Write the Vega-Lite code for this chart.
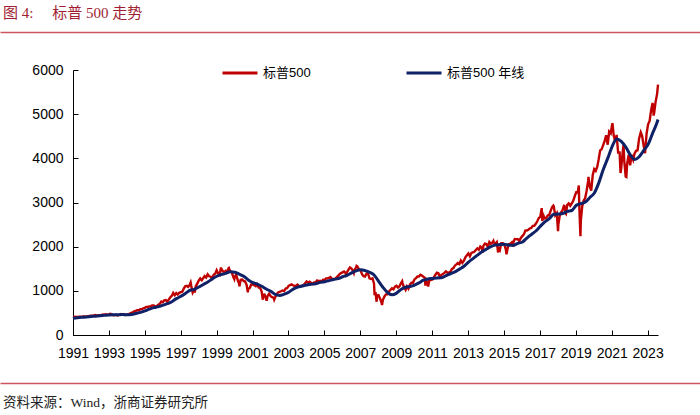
{
  "$schema": "https://vega.github.io/schema/vega-lite/v6.json",
  "background": "white",
  "padding": {"top": 6, "left": 0, "right": 0, "bottom": 0},
  "spacing": 23,
  "config": {
    "view": {"stroke": null},
    "axis": {"labelFont": "Liberation Sans", "labelColor": "black", "domainColor": "black", "tickColor": "black", "grid": false}
  },
  "datasets": {
    "spx": [
      {"d":"1991-12-31","v":417},
      {"d":"1992-01-28","v":409},{"d":"1992-02-28","v":413},{"d":"1992-03-28","v":404},{"d":"1992-04-28","v":415},{"d":"1992-05-28","v":415},{"d":"1992-06-28","v":408},{"d":"1992-07-28","v":424},{"d":"1992-08-28","v":414},{"d":"1992-09-28","v":418},{"d":"1992-10-28","v":419},{"d":"1992-11-28","v":431},{"d":"1992-12-28","v":436},
      {"d":"1993-01-28","v":439},{"d":"1993-02-28","v":443},{"d":"1993-03-28","v":452},{"d":"1993-04-28","v":440},{"d":"1993-05-28","v":450},{"d":"1993-06-28","v":451},{"d":"1993-07-28","v":448},{"d":"1993-08-28","v":464},{"d":"1993-09-28","v":459},{"d":"1993-10-28","v":468},{"d":"1993-11-28","v":462},{"d":"1993-12-28","v":467},
      {"d":"1994-01-28","v":482},{"d":"1994-02-28","v":467},{"d":"1994-03-28","v":446},{"d":"1994-04-28","v":451},{"d":"1994-05-28","v":457},{"d":"1994-06-28","v":444},{"d":"1994-07-28","v":458},{"d":"1994-08-28","v":476},{"d":"1994-09-28","v":463},{"d":"1994-10-28","v":472},{"d":"1994-11-28","v":454},{"d":"1994-12-28","v":459},
      {"d":"1995-01-28","v":470},{"d":"1995-02-28","v":487},{"d":"1995-03-28","v":501},{"d":"1995-04-28","v":515},{"d":"1995-05-28","v":533},{"d":"1995-06-28","v":545},{"d":"1995-07-28","v":562},{"d":"1995-08-28","v":562},{"d":"1995-09-28","v":584},{"d":"1995-10-28","v":582},{"d":"1995-11-28","v":605},{"d":"1995-12-28","v":616},
      {"d":"1996-01-28","v":636},{"d":"1996-02-28","v":640},{"d":"1996-03-28","v":646},{"d":"1996-04-28","v":654},{"d":"1996-05-28","v":669},{"d":"1996-06-28","v":671},{"d":"1996-07-28","v":640},{"d":"1996-08-28","v":652},{"d":"1996-09-28","v":687},{"d":"1996-10-28","v":705},{"d":"1996-11-28","v":757},{"d":"1996-12-28","v":741},
      {"d":"1997-01-28","v":786},{"d":"1997-02-28","v":791},{"d":"1997-03-28","v":757},{"d":"1997-04-28","v":801},{"d":"1997-05-28","v":848},{"d":"1997-06-28","v":885},{"d":"1997-07-28","v":954},{"d":"1997-08-28","v":900},{"d":"1997-09-28","v":947},{"d":"1997-10-28","v":915},{"d":"1997-11-28","v":955},{"d":"1997-12-28","v":970},
      {"d":"1998-01-28","v":980},{"d":"1998-02-28","v":1049},{"d":"1998-03-28","v":1102},{"d":"1998-04-28","v":1112},{"d":"1998-05-28","v":1091},{"d":"1998-06-28","v":1134},{"d":"1998-07-17","v":1187},{"d":"1998-07-28","v":1121},{"d":"1998-08-28","v":957},{"d":"1998-09-28","v":1017},{"d":"1998-10-08","v":959},{"d":"1998-10-28","v":1099},{"d":"1998-11-28","v":1164},{"d":"1998-12-28","v":1229},
      {"d":"1999-01-28","v":1280},{"d":"1999-02-28","v":1238},{"d":"1999-03-28","v":1286},{"d":"1999-04-28","v":1335},{"d":"1999-05-28","v":1302},{"d":"1999-06-28","v":1373},{"d":"1999-07-28","v":1329},{"d":"1999-08-28","v":1320},{"d":"1999-09-28","v":1283},{"d":"1999-10-28","v":1363},{"d":"1999-11-28","v":1389},{"d":"1999-12-28","v":1469},
      {"d":"2000-01-28","v":1395},{"d":"2000-02-28","v":1366},{"d":"2000-03-24","v":1527},{"d":"2000-03-30","v":1499},{"d":"2000-04-28","v":1452},{"d":"2000-05-28","v":1421},{"d":"2000-06-28","v":1455},{"d":"2000-07-28","v":1431},{"d":"2000-08-28","v":1518},{"d":"2000-09-01","v":1521},{"d":"2000-09-28","v":1437},{"d":"2000-10-28","v":1429},{"d":"2000-11-28","v":1315},{"d":"2000-12-20","v":1264},{"d":"2000-12-29","v":1320},
      {"d":"2001-01-28","v":1366},{"d":"2001-02-28","v":1240},{"d":"2001-03-28","v":1160},{"d":"2001-04-04","v":1103},{"d":"2001-04-28","v":1250},{"d":"2001-05-28","v":1256},{"d":"2001-06-28","v":1224},{"d":"2001-07-28","v":1211},{"d":"2001-08-28","v":1134},{"d":"2001-09-21","v":966},{"d":"2001-09-28","v":1041},{"d":"2001-10-28","v":1060},{"d":"2001-11-28","v":1140},{"d":"2001-12-28","v":1148},
      {"d":"2002-01-28","v":1130},{"d":"2002-02-28","v":1107},{"d":"2002-03-28","v":1147},{"d":"2002-04-28","v":1077},{"d":"2002-05-28","v":1067},{"d":"2002-06-28","v":990},{"d":"2002-07-23","v":798},{"d":"2002-07-30","v":912},{"d":"2002-08-28","v":916},{"d":"2002-09-28","v":815},{"d":"2002-10-09","v":777},{"d":"2002-10-28","v":886},{"d":"2002-11-28","v":936},{"d":"2002-12-28","v":880},
      {"d":"2003-01-28","v":856},{"d":"2003-02-28","v":841},{"d":"2003-03-11","v":801},{"d":"2003-03-28","v":848},{"d":"2003-04-28","v":917},{"d":"2003-05-28","v":964},{"d":"2003-06-28","v":975},{"d":"2003-07-28","v":990},{"d":"2003-08-28","v":1008},{"d":"2003-09-28","v":996},{"d":"2003-10-28","v":1051},{"d":"2003-11-28","v":1058},{"d":"2003-12-28","v":1112},
      {"d":"2004-01-28","v":1131},{"d":"2004-02-28","v":1145},{"d":"2004-03-28","v":1126},{"d":"2004-04-28","v":1107},{"d":"2004-05-28","v":1121},{"d":"2004-06-28","v":1141},{"d":"2004-07-28","v":1102},{"d":"2004-08-28","v":1104},{"d":"2004-09-28","v":1115},{"d":"2004-10-28","v":1130},{"d":"2004-11-28","v":1174},{"d":"2004-12-28","v":1212},
      {"d":"2005-01-28","v":1181},{"d":"2005-02-28","v":1204},{"d":"2005-03-28","v":1181},{"d":"2005-04-28","v":1157},{"d":"2005-05-28","v":1192},{"d":"2005-06-28","v":1191},{"d":"2005-07-28","v":1234},{"d":"2005-08-28","v":1220},{"d":"2005-09-28","v":1229},{"d":"2005-10-28","v":1207},{"d":"2005-11-28","v":1250},{"d":"2005-12-28","v":1248},
      {"d":"2006-01-28","v":1280},{"d":"2006-02-28","v":1281},{"d":"2006-03-28","v":1295},{"d":"2006-04-28","v":1311},{"d":"2006-05-28","v":1270},{"d":"2006-06-28","v":1270},{"d":"2006-07-28","v":1277},{"d":"2006-08-28","v":1304},{"d":"2006-09-28","v":1336},{"d":"2006-10-28","v":1378},{"d":"2006-11-28","v":1401},{"d":"2006-12-28","v":1418},
      {"d":"2007-01-28","v":1438},{"d":"2007-02-28","v":1407},{"d":"2007-03-05","v":1374},{"d":"2007-03-28","v":1421},{"d":"2007-04-28","v":1482},{"d":"2007-05-28","v":1531},{"d":"2007-06-28","v":1503},{"d":"2007-07-28","v":1455},{"d":"2007-08-15","v":1406},{"d":"2007-08-28","v":1474},{"d":"2007-09-28","v":1527},{"d":"2007-10-09","v":1565},{"d":"2007-10-28","v":1549},{"d":"2007-11-28","v":1481},{"d":"2007-12-28","v":1468},
      {"d":"2008-01-28","v":1379},{"d":"2008-02-28","v":1331},{"d":"2008-03-28","v":1323},{"d":"2008-04-28","v":1386},{"d":"2008-05-28","v":1400},{"d":"2008-06-28","v":1280},{"d":"2008-07-28","v":1267},{"d":"2008-08-28","v":1283},{"d":"2008-09-28","v":1166},{"d":"2008-10-10","v":899},{"d":"2008-10-28","v":969},{"d":"2008-11-20","v":752},{"d":"2008-11-28","v":896},{"d":"2008-12-28","v":903},
      {"d":"2009-01-28","v":826},{"d":"2009-02-28","v":735},{"d":"2009-03-09","v":677},{"d":"2009-03-28","v":798},{"d":"2009-04-28","v":873},{"d":"2009-05-28","v":919},{"d":"2009-06-28","v":919},{"d":"2009-07-28","v":988},{"d":"2009-08-28","v":1021},{"d":"2009-09-28","v":1057},{"d":"2009-10-28","v":1036},{"d":"2009-11-28","v":1096},{"d":"2009-12-28","v":1115},
      {"d":"2010-01-28","v":1074},{"d":"2010-02-28","v":1105},{"d":"2010-03-28","v":1169},{"d":"2010-04-23","v":1217},{"d":"2010-04-28","v":1187},{"d":"2010-05-28","v":1089},{"d":"2010-06-28","v":1031},{"d":"2010-07-02","v":1023},{"d":"2010-07-28","v":1102},{"d":"2010-08-28","v":1049},{"d":"2010-09-28","v":1141},{"d":"2010-10-28","v":1183},{"d":"2010-11-28","v":1181},{"d":"2010-12-28","v":1258},
      {"d":"2011-01-28","v":1286},{"d":"2011-02-28","v":1327},{"d":"2011-03-28","v":1326},{"d":"2011-04-28","v":1364},{"d":"2011-05-28","v":1345},{"d":"2011-06-28","v":1321},{"d":"2011-07-28","v":1292},{"d":"2011-08-08","v":1119},{"d":"2011-08-28","v":1219},{"d":"2011-09-28","v":1131},{"d":"2011-10-03","v":1099},{"d":"2011-10-28","v":1253},{"d":"2011-11-28","v":1247},{"d":"2011-12-28","v":1258},
      {"d":"2012-01-28","v":1312},{"d":"2012-02-28","v":1366},{"d":"2012-03-28","v":1409},{"d":"2012-04-28","v":1398},{"d":"2012-05-28","v":1310},{"d":"2012-06-28","v":1362},{"d":"2012-07-28","v":1379},{"d":"2012-08-28","v":1407},{"d":"2012-09-28","v":1441},{"d":"2012-10-28","v":1412},{"d":"2012-11-28","v":1416},{"d":"2012-12-28","v":1426},
      {"d":"2013-01-28","v":1498},{"d":"2013-02-28","v":1515},{"d":"2013-03-28","v":1569},{"d":"2013-04-28","v":1598},{"d":"2013-05-28","v":1631},{"d":"2013-06-28","v":1606},{"d":"2013-07-28","v":1686},{"d":"2013-08-28","v":1633},{"d":"2013-09-28","v":1682},{"d":"2013-10-28","v":1757},{"d":"2013-11-28","v":1806},{"d":"2013-12-28","v":1848},
      {"d":"2014-01-28","v":1783},{"d":"2014-02-28","v":1860},{"d":"2014-03-28","v":1872},{"d":"2014-04-28","v":1884},{"d":"2014-05-28","v":1924},{"d":"2014-06-28","v":1960},{"d":"2014-07-28","v":1931},{"d":"2014-08-28","v":2003},{"d":"2014-09-28","v":1972},{"d":"2014-10-15","v":1862},{"d":"2014-10-28","v":2018},{"d":"2014-11-28","v":2068},{"d":"2014-12-28","v":2059},
      {"d":"2015-01-28","v":1995},{"d":"2015-02-28","v":2105},{"d":"2015-03-28","v":2068},{"d":"2015-04-28","v":2086},{"d":"2015-05-21","v":2131},{"d":"2015-05-28","v":2107},{"d":"2015-06-28","v":2063},{"d":"2015-07-28","v":2104},{"d":"2015-08-25","v":1868},{"d":"2015-08-28","v":1972},{"d":"2015-09-28","v":1920},{"d":"2015-10-28","v":2079},{"d":"2015-11-28","v":2080},{"d":"2015-12-28","v":2044},
      {"d":"2016-01-28","v":1940},{"d":"2016-02-11","v":1829},{"d":"2016-02-28","v":1932},{"d":"2016-03-28","v":2060},{"d":"2016-04-28","v":2065},{"d":"2016-05-28","v":2097},{"d":"2016-06-27","v":2001},{"d":"2016-06-30","v":2099},{"d":"2016-07-28","v":2174},{"d":"2016-08-28","v":2171},{"d":"2016-09-28","v":2168},{"d":"2016-10-28","v":2126},{"d":"2016-11-28","v":2199},{"d":"2016-12-28","v":2239},
      {"d":"2017-01-28","v":2279},{"d":"2017-02-28","v":2364},{"d":"2017-03-28","v":2363},{"d":"2017-04-28","v":2384},{"d":"2017-05-28","v":2412},{"d":"2017-06-28","v":2423},{"d":"2017-07-28","v":2470},{"d":"2017-08-28","v":2472},{"d":"2017-09-28","v":2519},{"d":"2017-10-28","v":2575},{"d":"2017-11-28","v":2648},{"d":"2017-12-28","v":2674},
      {"d":"2018-01-26","v":2873},{"d":"2018-02-08","v":2581},{"d":"2018-02-28","v":2714},{"d":"2018-03-28","v":2641},{"d":"2018-04-28","v":2648},{"d":"2018-05-28","v":2705},{"d":"2018-06-28","v":2718},{"d":"2018-07-28","v":2816},{"d":"2018-08-28","v":2902},{"d":"2018-09-20","v":2931},{"d":"2018-09-28","v":2914},{"d":"2018-10-28","v":2712},{"d":"2018-11-28","v":2760},{"d":"2018-12-24","v":2351},{"d":"2018-12-31","v":2507},
      {"d":"2019-01-28","v":2704},{"d":"2019-02-28","v":2785},{"d":"2019-03-28","v":2834},{"d":"2019-04-28","v":2946},{"d":"2019-05-28","v":2752},{"d":"2019-06-03","v":2744},{"d":"2019-06-28","v":2942},{"d":"2019-07-28","v":2980},{"d":"2019-08-28","v":2927},{"d":"2019-09-28","v":2977},{"d":"2019-10-28","v":3038},{"d":"2019-11-28","v":3141},{"d":"2019-12-28","v":3231},
      {"d":"2020-01-28","v":3226},{"d":"2020-02-19","v":3386},{"d":"2020-02-28","v":2954},{"d":"2020-03-23","v":2237},{"d":"2020-03-31","v":2585},{"d":"2020-04-28","v":2912},{"d":"2020-05-28","v":3044},{"d":"2020-06-28","v":3100},{"d":"2020-07-28","v":3271},{"d":"2020-08-28","v":3500},{"d":"2020-09-02","v":3580},{"d":"2020-09-28","v":3363},{"d":"2020-10-28","v":3270},{"d":"2020-11-28","v":3622},{"d":"2020-12-28","v":3756},
      {"d":"2021-01-28","v":3714},{"d":"2021-02-28","v":3811},{"d":"2021-03-28","v":3973},{"d":"2021-04-28","v":4181},{"d":"2021-05-28","v":4204},{"d":"2021-06-28","v":4298},{"d":"2021-07-28","v":4395},{"d":"2021-08-28","v":4523},{"d":"2021-09-28","v":4308},{"d":"2021-10-28","v":4605},{"d":"2021-11-28","v":4567},{"d":"2021-12-28","v":4766},
      {"d":"2022-01-03","v":4797},{"d":"2022-01-28","v":4516},{"d":"2022-02-28","v":4374},{"d":"2022-03-28","v":4530},{"d":"2022-04-28","v":4132},{"d":"2022-05-28","v":4132},{"d":"2022-06-16","v":3667},{"d":"2022-06-30","v":3785},{"d":"2022-07-28","v":4130},{"d":"2022-08-16","v":4305},{"d":"2022-08-30","v":3955},{"d":"2022-09-28","v":3586},{"d":"2022-10-12","v":3577},{"d":"2022-10-28","v":3872},{"d":"2022-11-28","v":4080},{"d":"2022-12-28","v":3840},
      {"d":"2023-01-28","v":4077},{"d":"2023-02-28","v":3970},{"d":"2023-03-28","v":4109},{"d":"2023-04-28","v":4170},{"d":"2023-05-28","v":4180},{"d":"2023-06-28","v":4450},{"d":"2023-07-31","v":4589},{"d":"2023-08-28","v":4508},{"d":"2023-09-28","v":4288},{"d":"2023-10-27","v":4117},{"d":"2023-10-31","v":4194},{"d":"2023-11-28","v":4568},{"d":"2023-12-28","v":4770},
      {"d":"2024-01-28","v":4846},{"d":"2024-02-28","v":5096},{"d":"2024-03-28","v":5254},{"d":"2024-04-19","v":4967},{"d":"2024-04-30","v":5036},{"d":"2024-05-28","v":5278},{"d":"2024-06-28","v":5460},{"d":"2024-07-16","v":5667}
    ],
    "ma": [
      {"d":"1991-12-31","v":381.5},
      {"d":"1992-03-31","v":393.2},{"d":"1992-06-30","v":401.7},{"d":"1992-09-30","v":408.8},{"d":"1992-12-31","v":417.2},
      {"d":"1993-03-31","v":426.2},{"d":"1993-06-30","v":434.8},{"d":"1993-09-30","v":444.3},{"d":"1993-12-31","v":453.6},
      {"d":"1994-03-31","v":458.7},{"d":"1994-06-30","v":459.6},{"d":"1994-09-30","v":461.8},{"d":"1994-12-31","v":460.8},
      {"d":"1995-03-31","v":466.0},{"d":"1995-06-30","v":486.1},{"d":"1995-09-30","v":512.0},{"d":"1995-12-31","v":546.8},
      {"d":"1996-03-31","v":585.5},{"d":"1996-06-30","v":618.9},{"d":"1996-09-30","v":641.5},{"d":"1996-12-31","v":674.8},
      {"d":"1997-03-31","v":709.2},{"d":"1997-06-30","v":754.2},{"d":"1997-09-30","v":822.7},{"d":"1997-12-31","v":875.8},
      {"d":"1998-03-31","v":942.2},{"d":"1998-06-30","v":1009.1},{"d":"1998-09-30","v":1033.6},{"d":"1998-12-31","v":1087.9},
      {"d":"1999-03-31","v":1144.0},{"d":"1999-06-30","v":1200.1},{"d":"1999-09-30","v":1269.8},{"d":"1999-12-31","v":1330.6},
      {"d":"2000-03-31","v":1368.6},{"d":"2000-06-30","v":1395.1},{"d":"2000-09-30","v":1432.9},{"d":"2000-12-31","v":1419.8},
      {"d":"2001-03-31","v":1378.7},{"d":"2001-06-30","v":1328.8},{"d":"2001-09-30","v":1245.5},{"d":"2001-12-31","v":1185.8},
      {"d":"2002-03-31","v":1154.0},{"d":"2002-06-30","v":1104.3},{"d":"2002-09-30","v":1042.4},{"d":"2002-12-31","v":988.6},
      {"d":"2003-03-31","v":918.7},{"d":"2003-06-30","v":895.5},{"d":"2003-09-30","v":924.8},{"d":"2003-12-31","v":968.0},
      {"d":"2004-03-31","v":1039.4},{"d":"2004-06-30","v":1082.2},{"d":"2004-09-30","v":1109.4},{"d":"2004-12-31","v":1134.0},
      {"d":"2005-03-31","v":1147.7},{"d":"2005-06-30","v":1161.9},{"d":"2005-09-30","v":1192.1},{"d":"2005-12-31","v":1207.8},
      {"d":"2006-03-31","v":1232.0},{"d":"2006-06-30","v":1257.9},{"d":"2006-09-30","v":1277.4},{"d":"2006-12-31","v":1318.4},
      {"d":"2007-03-31","v":1352.6},{"d":"2007-06-30","v":1408.0},{"d":"2007-09-30","v":1452.9},{"d":"2007-12-31","v":1478.0},
      {"d":"2008-03-31","v":1458.6},{"d":"2008-06-30","v":1421.1},{"d":"2008-09-30","v":1359.4},{"d":"2008-12-31","v":1215.3},
      {"d":"2009-03-31","v":1075.8},{"d":"2009-06-30","v":962.8},{"d":"2009-09-30","v":908.7},{"d":"2009-12-31","v":948.6},
      {"d":"2010-03-31","v":1031.0},{"d":"2010-06-30","v":1080.7},{"d":"2010-09-30","v":1099.5},{"d":"2010-12-31","v":1130.8},
      {"d":"2011-03-31","v":1180.0},{"d":"2011-06-30","v":1240.3},{"d":"2011-09-30","v":1269.4},{"d":"2011-12-31","v":1280.8},
      {"d":"2012-03-31","v":1293.1},{"d":"2012-06-30","v":1296.4},{"d":"2012-09-30","v":1345.2},{"d":"2012-12-31","v":1386.5},
      {"d":"2013-03-31","v":1427.8},{"d":"2013-06-30","v":1491.5},{"d":"2013-09-30","v":1556.0},{"d":"2013-12-31","v":1652.4},
      {"d":"2014-03-31","v":1730.2},{"d":"2014-06-30","v":1807.9},{"d":"2014-09-30","v":1883.3},{"d":"2014-12-31","v":1944.5},
      {"d":"2015-03-31","v":1998.9},{"d":"2015-06-30","v":2039.6},{"d":"2015-09-30","v":2047.1},{"d":"2015-12-31","v":2051.9},
      {"d":"2016-03-31","v":2032.3},{"d":"2016-06-30","v":2032.7},{"d":"2016-09-30","v":2075.8},{"d":"2016-12-31","v":2105.8},
      {"d":"2017-03-31","v":2195.3},{"d":"2017-06-30","v":2275.2},{"d":"2017-09-30","v":2354.2},{"d":"2017-12-31","v":2465.3},
      {"d":"2018-03-31","v":2563.0},{"d":"2018-06-30","v":2634.0},{"d":"2018-09-30","v":2731.6},{"d":"2018-12-31","v":2738.4},
      {"d":"2019-03-31","v":2750.4},{"d":"2019-06-30","v":2797.8},{"d":"2019-09-30","v":2818.8},{"d":"2019-12-31","v":2938.1},
      {"d":"2020-03-31","v":2974.9},{"d":"2020-06-30","v":3009.6},{"d":"2020-09-30","v":3113.8},{"d":"2020-12-31","v":3216.9},
      {"d":"2021-03-31","v":3444.7},{"d":"2021-06-30","v":3746.9},{"d":"2021-09-30","v":4004.6},{"d":"2021-12-31","v":4278.8},
      {"d":"2022-03-31","v":4438.9},{"d":"2022-06-30","v":4386.1},{"d":"2022-09-30","v":4256.5},{"d":"2022-12-31","v":4077.7},
      {"d":"2023-03-31","v":3972.3},{"d":"2023-06-30","v":4034.9},{"d":"2023-09-30","v":4177.8},{"d":"2023-12-31","v":4322.8},
      {"d":"2024-03-31","v":4576.1},{"d":"2024-06-30","v":4823.9},{"d":"2024-07-16","v":4880}
    ]
  },
  "vconcat": [
    {
      "width": 700,
      "height": 8,
      "title": {"text": "图 4:\u00a0\u00a0\u00a0\u00a0\u00a0标普 500 走势", "anchor": "start", "dx": 3, "offset": 11, "font": "Liberation Serif, Noto Sans CJK SC", "fontSize": 15, "fontWeight": "normal", "color": "#a01e32"},
      "data": {"values": []},
      "mark": "point",
      "encoding": {
        "x": {"field": "a", "type": "quantitative", "scale": {"domain": [0, 1]}, "axis": {"orient": "top", "position": -73, "title": null, "labels": false, "ticks": false, "domainColor": "#cd5560", "domainWidth": 1.5}}
      }
    },
    {
      "width": 585,
      "height": 265,
      "layer": [
        {
          "data": {"name": "spx"},
          "mark": {"type": "line", "strokeWidth": 2.4},
          "encoding": {
            "x": {"field": "d", "type": "temporal",
              "scale": {"domain": [{"year": 1991, "month": 12, "date": 31}, {"year": 2024, "month": 7, "date": 16}]},
              "axis": {"title": null, "format": "%Y", "labelFlush": false, "labelOverlap": false, "tickCount": 40, "tickSize": -5, "labelPadding": 16, "labelFontSize": 14,
                "values": [{"year":1991,"month":12,"date":31},{"year":1993,"month":12,"date":30},{"year":1995,"month":12,"date":29},{"year":1997,"month":12,"date":29},{"year":1999,"month":12,"date":28},{"year":2001,"month":12,"date":27},{"year":2003,"month":12,"date":26},{"year":2005,"month":12,"date":25},{"year":2007,"month":12,"date":25},{"year":2009,"month":12,"date":24},{"year":2011,"month":12,"date":23},{"year":2013,"month":12,"date":22},{"year":2015,"month":12,"date":21},{"year":2017,"month":12,"date":21},{"year":2019,"month":12,"date":20},{"year":2021,"month":12,"date":19},{"year":2023,"month":12,"date":18}]}},
            "y": {"field": "v", "type": "quantitative", "scale": {"domain": [0, 6000], "nice": false},
              "axis": {"title": null, "format": "d", "values": [0, 1000, 2000, 3000, 4000, 5000, 6000], "tickSize": -5, "labelPadding": 15, "labelFontSize": 14, "minExtent": 73}},
            "color": {"datum": "标普500", "type": "nominal",
              "scale": {"domain": ["标普500", "标普500 年线"], "range": ["#c00000", "#0f2167"]},
              "legend": {"orient": "none", "legendX": 148, "legendY": 22, "direction": "horizontal", "title": null, "padding": 0,
                "symbolType": "stroke", "symbolSize": 1225, "symbolStrokeWidth": 3, "labelFont": "Liberation Sans, Noto Sans CJK SC", "labelFontSize": 13, "labelColor": "black", "labelOffset": 4, "columnPadding": 89}}
          }
        },
        {
          "data": {"name": "ma"},
          "mark": {"type": "line", "strokeWidth": 3, "interpolate": "monotone"},
          "encoding": {
            "x": {"field": "d", "type": "temporal"},
            "y": {"field": "v", "type": "quantitative"},
            "color": {"datum": "标普500 年线", "type": "nominal"}
          }
        }
      ]
    },
    {
      "width": 700,
      "height": 12,
      "title": {"text": "资料来源：Wind，浙商证券研究所", "orient": "bottom", "anchor": "start", "dx": 3, "offset": 1, "font": "Liberation Serif, Noto Sans CJK SC", "fontSize": 13.5, "fontWeight": "normal", "color": "#222222"},
      "data": {"values": []},
      "mark": "point",
      "encoding": {
        "x": {"field": "a", "type": "quantitative", "scale": {"domain": [0, 1]}, "axis": {"orient": "top", "position": -73, "title": null, "labels": false, "ticks": false, "domainColor": "#cd5560", "domainWidth": 1.5}}
      }
    }
  ]
}
